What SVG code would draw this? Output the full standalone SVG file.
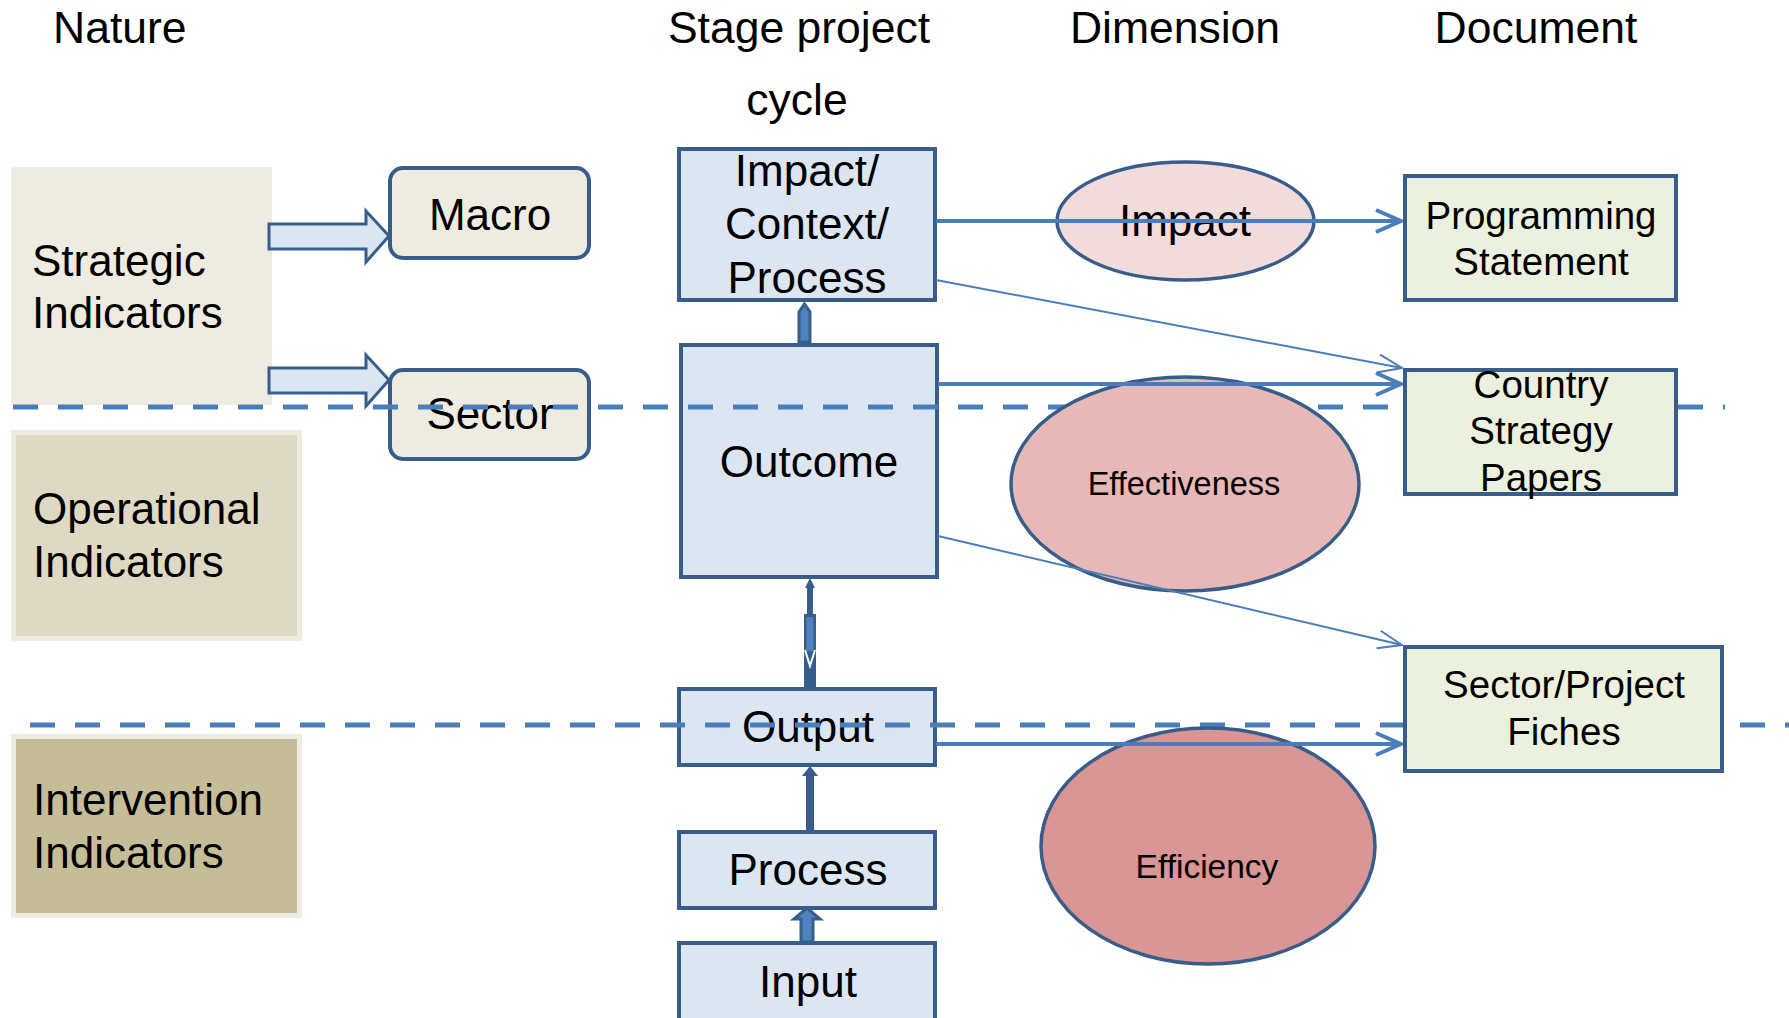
<svg xmlns="http://www.w3.org/2000/svg" width="1789" height="1018" viewBox="0 0 1789 1018">
<style>
text{font-family:"Liberation Sans",Arial,sans-serif;fill:#000}
.hdr{font-size:44.5px}
.lbl{font-size:44px}
.doc{font-size:38.5px}
.mid{text-anchor:middle}
.cbox{fill:#DCE6F2;stroke:#385D8A;stroke-width:4}
.dbox{fill:#EBF1DE;stroke:#385D8A;stroke-width:4}
.rbox{fill:#EEECE1;stroke:#385D8A;stroke-width:4}
.ell{stroke:#385D8A;stroke-width:3.5}
.blk{fill:#DCE6F2;stroke:#385D8A;stroke-width:3;stroke-linejoin:miter}
.sep{stroke:#4A7EBB;stroke-width:5;stroke-dasharray:25 20;fill:none}
.con{stroke:#4A7EBB;stroke-width:4;fill:none}
.thin{stroke:#4A7EBB;stroke-width:2;fill:none}
</style>
<defs>
<marker id="ah" markerUnits="userSpaceOnUse" viewBox="-30 -14 32 28" refX="0" refY="0" markerWidth="32" markerHeight="28" orient="auto">
<path d="M-25,-11 L0,0 L-25,11" fill="none" stroke="#4A7EBB" stroke-width="4"/>
</marker>
<marker id="aht" markerUnits="userSpaceOnUse" viewBox="-30 -14 32 28" refX="0" refY="0" markerWidth="32" markerHeight="28" orient="auto">
<path d="M-24,-9 L0,0 L-24,9" fill="none" stroke="#4A7EBB" stroke-width="2"/>
</marker>
</defs>
<rect width="1789" height="1018" fill="#fff"/>

<g id="headers">
<text class="hdr" x="53" y="43">Nature</text>
<text class="hdr mid" x="799" y="43">Stage project</text>
<text class="hdr mid" x="797" y="115">cycle</text>
<text class="hdr mid" x="1175" y="43">Dimension</text>
<text class="hdr mid" x="1536" y="43">Document</text>
</g>

<g id="strategic">
<rect x="11" y="167" width="261" height="238" fill="#EEEBE0"/>
<text class="lbl" x="32" y="276">Strategic</text>
<text class="lbl" x="32" y="328">Indicators</text>
</g>
<g id="operational">
<rect x="13.5" y="432.5" width="286" height="206" fill="#DDD9C3" stroke="#EEECE1" stroke-width="5"/>
<text class="lbl" x="33" y="524">Operational</text>
<text class="lbl" x="33" y="577">Indicators</text>
</g>
<g id="intervention">
<rect x="13.5" y="736.5" width="286" height="179" fill="#C4BD97" stroke="#EEECE1" stroke-width="5"/>
<text class="lbl" x="33" y="815">Intervention</text>
<text class="lbl" x="33" y="868">Indicators</text>
</g>

<g id="block-arrows">
<polygon class="blk" points="269,224 366,224 366,211 389,236 366,262 366,249 269,249"/>
<polygon class="blk" points="269,368 366,368 366,355 389,380 366,406 366,393 269,393"/>
</g>

<g id="macro">
<rect class="rbox" x="390" y="168" width="199" height="90" rx="13"/>
<text class="lbl mid" x="490" y="230">Macro</text>
</g>
<g id="sector">
<rect class="rbox" x="390" y="370" width="199" height="89" rx="13"/>
<text class="lbl mid" x="490" y="429">Sector</text>
</g>

<g id="impact-box">
<rect class="cbox" x="679" y="149" width="256" height="151"/>
<text class="lbl mid" x="807" y="186">Impact/</text>
<text class="lbl mid" x="807" y="239">Context/</text>
<text class="lbl mid" x="807" y="293">Process</text>
</g>
<g id="outcome">
<rect class="cbox" x="681" y="345" width="256" height="232"/>
<text class="lbl mid" x="809" y="477">Outcome</text>
</g>
<g id="output">
<rect class="cbox" x="679" y="689" width="256" height="76"/>
<text class="lbl mid" x="808" y="742">Output</text>
</g>
<g id="process">
<rect class="cbox" x="679" y="832" width="256" height="76"/>
<text class="lbl mid" x="808" y="885">Process</text>
</g>
<g id="input">
<rect class="cbox" x="679" y="943" width="256" height="90"/>
<text class="lbl mid" x="808" y="997">Input</text>
</g>

<g id="separators">
<line class="sep" x1="13" y1="407" x2="1725" y2="407"/>
<line class="sep" x1="30" y1="725" x2="1789" y2="725"/>
</g>

<g id="impact-dim">
<ellipse class="ell" cx="1185.5" cy="221" rx="128.5" ry="59" fill="#F2DCDB"/>
<text class="lbl mid" x="1185" y="236">Impact</text>
</g>
<g id="effectiveness">
<ellipse class="ell" cx="1185" cy="484" rx="174" ry="107" fill="#E6B9B8"/>
<text class="mid" x="1184" y="495" style="font-size:32.5px">Effectiveness</text>
</g>
<g id="efficiency">
<ellipse class="ell" cx="1208" cy="846" rx="167" ry="118" fill="#D99694"/>
<text class="mid" x="1207" y="878" style="font-size:33.5px">Efficiency</text>
</g>

<g id="programming-statement">
<rect class="dbox" x="1405" y="176" width="271" height="124"/>
<text class="doc mid" x="1541" y="229">Programming</text>
<text class="doc mid" x="1541" y="275">Statement</text>
</g>
<g id="country-strategy-papers">
<rect class="dbox" x="1405" y="370" width="271" height="124"/>
<text class="doc mid" x="1541" y="398">Country</text>
<text class="doc mid" x="1541" y="444">Strategy</text>
<text class="doc mid" x="1541" y="491">Papers</text>
</g>
<g id="sector-project-fiches">
<rect class="dbox" x="1405" y="647" width="317" height="124"/>
<text class="doc mid" x="1564" y="698">Sector/Project</text>
<text class="doc mid" x="1564" y="745">Fiches</text>
</g>

<g id="connectors">
<path d="M799,342 L799,312 L804.5,304 L810,312 L810,342 Z" fill="#4F81BD" stroke="#385D8A" stroke-width="3"/>
<path d="M807,614 L807,588 L805,588 L810,578 L815,588 L813,588 L813,614 Z" fill="#385D8A"/>
<rect x="804" y="614" width="12" height="74" fill="#385D8A"/>
<rect x="806.5" y="617" width="7" height="34" fill="#4F81BD"/>
<polyline points="805,650 810,666 815,650" fill="none" stroke="#fff" stroke-width="2"/>
<path d="M806,831 L806,776 L802,776 L810,766 L818,776 L814,776 L814,831 Z" fill="#385D8A"/>
<path d="M801,942 L801,919 L794,919 L807,908 L820,919 L813,919 L813,942 Z" fill="#4F81BD" stroke="#385D8A" stroke-width="3"/>
<line class="con" x1="936" y1="221" x2="1401" y2="221" marker-end="url(#ah)"/>
<line class="thin" x1="936" y1="280" x2="1402" y2="368" marker-end="url(#aht)"/>
<line class="con" x1="938" y1="384" x2="1401" y2="384" marker-end="url(#ah)"/>
<line class="thin" x1="938" y1="536" x2="1402" y2="645" marker-end="url(#aht)"/>
<line class="con" x1="936" y1="744" x2="1401" y2="744" marker-end="url(#ah)"/>
</g>
</svg>
